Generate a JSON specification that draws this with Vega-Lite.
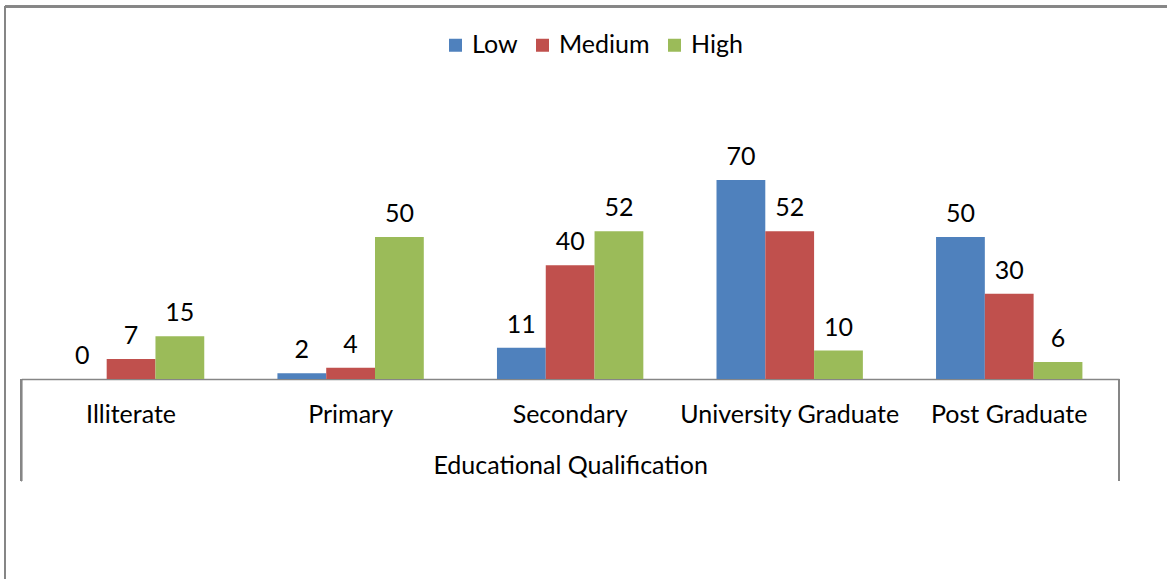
{
  "$schema": "https://vega.github.io/schema/vega-lite/v6.json",
  "autosize": "none",
  "width": 1162,
  "height": 572.5,
  "padding": {"left": 5, "top": 6.5, "right": 0, "bottom": 0},
  "background": "white",
  "config": {
    "view": {"stroke": null},
    "font": "Lato",
    "axis": {"labelFont": "Lato", "titleFont": "Lato"},
    "legend": {"labelFont": "Lato"}
  },
  "data": {
    "values": [
      {"category": "Illiterate", "level": "Low", "value": 0},
      {"category": "Illiterate", "level": "Medium", "value": 7},
      {"category": "Illiterate", "level": "High", "value": 15},
      {"category": "Primary", "level": "Low", "value": 2},
      {"category": "Primary", "level": "Medium", "value": 4},
      {"category": "Primary", "level": "High", "value": 50},
      {"category": "Secondary", "level": "Low", "value": 11},
      {"category": "Secondary", "level": "Medium", "value": 40},
      {"category": "Secondary", "level": "High", "value": 52},
      {"category": "University Graduate", "level": "Low", "value": 70},
      {"category": "University Graduate", "level": "Medium", "value": 52},
      {"category": "University Graduate", "level": "High", "value": 10},
      {"category": "Post Graduate", "level": "Low", "value": 50},
      {"category": "Post Graduate", "level": "Medium", "value": 30},
      {"category": "Post Graduate", "level": "High", "value": 6}
    ]
  },
  "layer": [
    {
      "mark": {"type": "bar"},
      "encoding": {
        "x": {
          "field": "category",
          "type": "nominal",
          "sort": ["Illiterate", "Primary", "Secondary", "University Graduate", "Post Graduate"],
          "scale": {"paddingInner": 0.3333, "paddingOuter": 0.16667, "range": [16.3, 1114]},
          "axis": {
            "title": "Educational Qualification",
            "titleFontSize": 25,
            "titleFontWeight": "normal",
            "titleColor": "#000000",
            "titlePadding": 26,
            "labelFontSize": 25,
            "labelColor": "#000000",
            "labelPadding": 23,
            "labelAngle": 0,
            "labelLimit": 0,
            "ticks": false,
            "offset": -200,
            "domainColor": "#868686",
            "domainWidth": 1.5
          }
        },
        "xOffset": {
          "field": "level",
          "type": "nominal",
          "sort": ["Low", "Medium", "High"],
          "scale": {"paddingInner": 0, "paddingOuter": 0}
        },
        "y": {
          "field": "value",
          "type": "quantitative",
          "scale": {"domain": [0, 80], "nice": false, "range": [372.5, 145.1]},
          "axis": null
        },
        "color": {
          "field": "level",
          "type": "nominal",
          "sort": ["Low", "Medium", "High"],
          "scale": {"domain": ["Low", "Medium", "High"], "range": ["#4F81BD", "#C0504D", "#9BBB59"]},
          "legend": {
            "title": null,
            "orient": "none",
            "direction": "horizontal",
            "legendX": 438,
            "legendY": 26,
            "symbolType": "square",
            "symbolSize": 169,
            "symbolStrokeWidth": 0,
            "labelFontSize": 25,
            "labelColor": "#000000",
            "labelOffset": 4,
            "columnPadding": 12
          }
        }
      }
    },
    {
      "mark": {"type": "text", "baseline": "alphabetic", "dy": -15, "fontSize": 25, "color": "#000000"},
      "encoding": {
        "x": {
          "field": "category",
          "type": "nominal",
          "sort": ["Illiterate", "Primary", "Secondary", "University Graduate", "Post Graduate"]
        },
        "xOffset": {
          "field": "level",
          "type": "nominal",
          "sort": ["Low", "Medium", "High"]
        },
        "y": {"field": "value", "type": "quantitative"},
        "text": {"field": "value", "type": "quantitative"}
      }
    },
    {
      "mark": {"type": "rule", "color": "#868686", "strokeWidth": 1.5},
      "encoding": {
        "x": {"datum": "Illiterate", "bandPosition": -0.25},
        "y": {"datum": 0},
        "y2": {"datum": -35.9}
      }
    },
    {
      "mark": {"type": "rule", "color": "#868686", "strokeWidth": 1.5},
      "encoding": {
        "x": {"datum": "Post Graduate", "bandPosition": 1.25},
        "y": {"datum": 0},
        "y2": {"datum": -35.9}
      }
    },
    {
      "mark": {"type": "rule", "color": "#868686", "strokeWidth": 1.5},
      "encoding": {
        "y": {"datum": 131.05}
      }
    },
    {
      "mark": {"type": "rule", "color": "#868686", "strokeWidth": 1.5},
      "encoding": {
        "x": {"datum": "Illiterate", "bandPosition": -0.3614},
        "y": {"datum": 131.05},
        "y2": {"datum": -80}
      }
    }
  ]
}
